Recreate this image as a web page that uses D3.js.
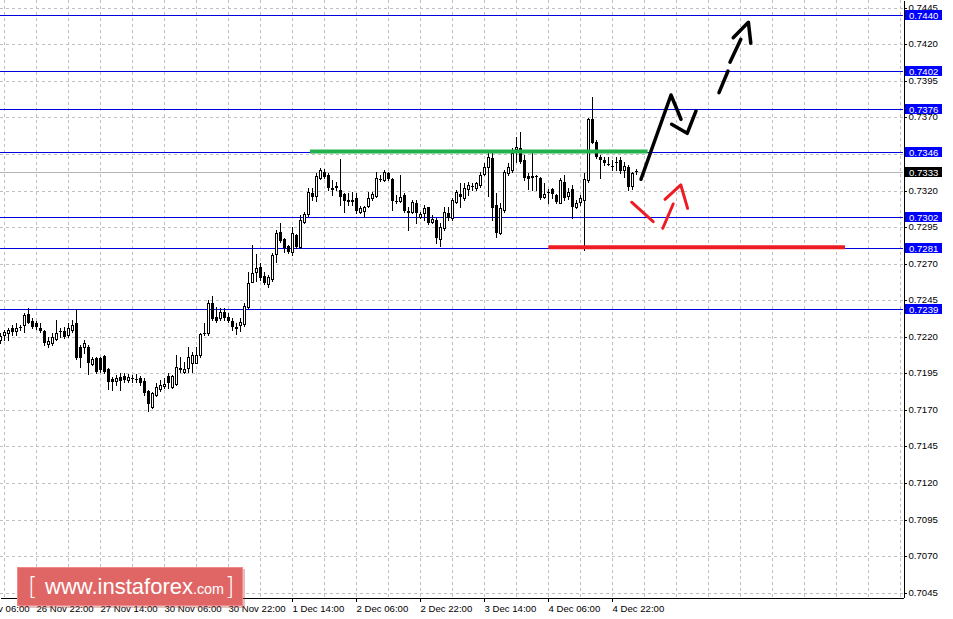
<!DOCTYPE html>
<html><head><meta charset="utf-8">
<script src="https://cdn.jsdelivr.net/npm/d3@7/dist/d3.min.js"></script>
<style>
body{margin:0;background:#fff}
svg{display:block;font-family:"Liberation Sans",Arial,sans-serif}
</style>
</head><body>
<svg id="c" width="953" height="619"></svg>
<script>
// ---- data (AUD/USD H1) ----
const opens = [0.72178,0.72212,0.72224,0.72258,0.72240,0.72262,0.72281,0.72356,0.72308,0.72292,0.72262,0.72240,0.72148,0.72155,0.72183,0.72242,0.72240,0.72212,0.72246,0.72292,
0.72132,0.72132,0.72132,0.72014,0.72053,0.72053,0.72069,0.71977,0.71909,0.71898,0.71927,0.71932,0.71904,0.71916,0.71913,0.71920,0.71900,0.71829,0.71722,0.71802,
0.71843,0.71863,0.71932,0.71859,0.71875,0.71984,0.71961,0.71984,0.72023,0.72023,0.72075,0.72217,0.72224,0.72429,0.72333,0.72326,0.72372,0.72338,0.72310,0.72269,
0.72281,0.72285,0.72406,0.72577,0.72645,0.72675,0.72616,0.72559,0.72593,0.72764,0.72914,0.72869,0.72821,0.72782,0.72896,0.72816,0.72987,0.73040,0.73185,0.73165,
0.73283,0.73324,0.73306,0.73215,0.73231,0.73204,0.73176,0.73135,0.73135,0.73151,0.73055,0.73060,0.73096,0.73151,0.73165,0.73276,0.73272,0.73322,0.73276,0.73125,
0.73131,0.73169,0.73060,0.73055,0.73112,0.73021,0.73044,0.73085,0.72987,0.72998,0.72866,0.72941,0.73044,0.73010,0.73124,0.73174,0.73146,0.73208,0.73226,0.73215,
0.73237,0.73313,0.73363,0.73420,0.73101,0.72911,0.73067,0.73317,0.73340,0.73481,0.73488,0.73408,0.73299,0.73299,0.73299,0.73283,0.73153,0.73192,0.73208,0.73169,
0.73117,0.73256,0.73162,0.73208,0.73090,0.73124,0.73135,0.73272,0.73686,0.73534,0.73427,0.73408,0.73379,0.73365,0.73398,0.73409,0.73341,0.73359,0.73231,0.73336];
const highs = [0.72224,0.72246,0.72258,0.72281,0.72292,0.72281,0.72360,0.72395,0.72326,0.72308,0.72297,0.72246,0.72201,0.72228,0.72315,0.72258,0.72269,0.72292,0.72315,0.72388,
0.72144,0.72178,0.72144,0.72064,0.72064,0.72064,0.72075,0.71984,0.71927,0.71939,0.71950,0.71950,0.71943,0.71939,0.71945,0.71932,0.71916,0.71836,0.71825,0.71886,
0.71904,0.71916,0.71950,0.71939,0.72075,0.72064,0.72030,0.72132,0.72098,0.72132,0.72228,0.72292,0.72452,0.72481,0.72406,0.72395,0.72395,0.72360,0.72326,0.72292,
0.72326,0.72429,0.72645,0.72827,0.72766,0.72702,0.72645,0.72622,0.72771,0.72930,0.72980,0.72873,0.72827,0.72948,0.72903,0.73033,0.73055,0.73215,0.73215,0.73317,
0.73352,0.73345,0.73317,0.73272,0.73260,0.73413,0.73181,0.73181,0.73188,0.73181,0.73096,0.73096,0.73192,0.73192,0.73329,0.73306,0.73340,0.73329,0.73283,0.73170,
0.73306,0.73181,0.73090,0.73135,0.73135,0.73055,0.73101,0.73089,0.73032,0.73010,0.72975,0.73089,0.73089,0.73146,0.73203,0.73249,0.73249,0.73260,0.73249,0.73260,
0.73329,0.73386,0.73454,0.73454,0.73181,0.73112,0.73340,0.73386,0.73488,0.73568,0.73602,0.73443,0.73317,0.73454,0.73306,0.73290,0.73249,0.73208,0.73215,0.73176,
0.73283,0.73306,0.73215,0.73237,0.73135,0.73169,0.73317,0.73693,0.73841,0.73545,0.73443,0.73431,0.73431,0.73408,0.73427,0.73432,0.73398,0.73375,0.73329,0.73345];
const lows = [0.72155,0.72178,0.72178,0.72212,0.72212,0.72246,0.72235,0.72292,0.72258,0.72251,0.72235,0.72144,0.72132,0.72144,0.72178,0.72201,0.72190,0.72201,0.72235,0.72046,
0.71996,0.72087,0.71943,0.72007,0.71950,0.71961,0.71950,0.71843,0.71836,0.71870,0.71836,0.71893,0.71893,0.71893,0.71888,0.71870,0.71802,0.71695,0.71715,0.71795,
0.71829,0.71847,0.71847,0.71852,0.71870,0.71961,0.71955,0.71961,0.71961,0.72018,0.72064,0.72212,0.72212,0.72315,0.72303,0.72315,0.72315,0.72303,0.72246,0.72217,
0.72242,0.72274,0.72395,0.72572,0.72580,0.72588,0.72559,0.72543,0.72584,0.72714,0.72850,0.72782,0.72770,0.72759,0.72809,0.72809,0.72980,0.73028,0.73135,0.73130,
0.73276,0.73283,0.73204,0.73169,0.73204,0.73101,0.73055,0.73101,0.73101,0.73049,0.73044,0.73021,0.73090,0.73135,0.73158,0.73265,0.73265,0.73272,0.73067,0.73117,
0.73124,0.73055,0.72930,0.73044,0.72976,0.73010,0.72998,0.72971,0.72975,0.72839,0.72823,0.72930,0.72998,0.72998,0.73112,0.73089,0.73135,0.73169,0.73203,0.73203,
0.73226,0.73306,0.73162,0.72998,0.72884,0.72903,0.73055,0.73306,0.73329,0.73397,0.73390,0.73272,0.73208,0.73203,0.73203,0.73139,0.73146,0.73117,0.73146,0.73117,
0.73112,0.73135,0.73140,0.73010,0.73078,0.73101,0.72794,0.73260,0.73522,0.73420,0.73283,0.73374,0.73374,0.73340,0.73341,0.73322,0.73295,0.73204,0.73209,0.73313];
const closes = [0.72205,0.72235,0.72246,0.72235,0.72262,0.72264,0.72349,0.72297,0.72265,0.72265,0.72240,0.72155,0.72171,0.72196,0.72228,0.72230,0.72201,0.72258,0.72281,0.72053,
0.72053,0.72155,0.72018,0.72046,0.71961,0.71973,0.71961,0.71893,0.71893,0.71920,0.71900,0.71904,0.71923,0.71918,0.71914,0.71886,0.71813,0.71738,0.71813,0.71859,
0.71870,0.71877,0.71882,0.71932,0.71996,0.71973,0.71980,0.72064,0.72075,0.72075,0.72217,0.72228,0.72433,0.72319,0.72310,0.72372,0.72326,0.72310,0.72265,0.72253,
0.72303,0.72411,0.72565,0.72634,0.72668,0.72604,0.72565,0.72606,0.72759,0.72907,0.72857,0.72805,0.72777,0.72907,0.72816,0.72998,0.73040,0.73192,0.73158,0.73299,
0.73340,0.73295,0.73215,0.73204,0.73215,0.73158,0.73131,0.73124,0.73124,0.73060,0.73083,0.73090,0.73147,0.73176,0.73283,0.73278,0.73329,0.73276,0.73131,0.73124,
0.73153,0.73062,0.73044,0.73124,0.73044,0.73037,0.73078,0.72975,0.73003,0.72873,0.72953,0.73055,0.73010,0.73135,0.73192,0.73153,0.73215,0.73238,0.73228,0.73249,
0.73306,0.73363,0.73431,0.73078,0.72907,0.73078,0.73329,0.73358,0.73454,0.73495,0.73397,0.73283,0.73279,0.73283,0.73297,0.73146,0.73174,0.73193,0.73174,0.73124,
0.73272,0.73146,0.73192,0.73085,0.73117,0.73146,0.73276,0.73686,0.73527,0.73431,0.73408,0.73386,0.73378,0.73363,0.73386,0.73336,0.73368,0.73227,0.73322,0.73330];

const xTickIndex  = [-7, 9, 25, 41, 57, 73, 89, 105, 121, 137, 153];
const xTickLabels = ["26 Nov 06:00","26 Nov 22:00","27 Nov 14:00","30 Nov 06:00","30 Nov 22:00",
                     "1 Dec 14:00","2 Dec 06:00","2 Dec 22:00","3 Dec 14:00","4 Dec 06:00","4 Dec 22:00"];
const yTicks = [0.7045,0.7070,0.7095,0.7120,0.7145,0.7170,0.7195,0.7220,0.7245,0.7270,0.7295,0.7320,0.7345,0.7370,0.7395,0.7420,0.7445];
const levels = [0.7440,0.7402,0.7376,0.7346,0.7302,0.7281,0.7239];
const bidPrice = 0.7333;

// annotations: [bar index, price]
const greenLine = [[77.5,0.73466],[161.9,0.73466]];
const redLine = [[137.1,0.72812],[211.25,0.72812]];
const blackSolid = [
  [[160.25,0.73277],[167.75,0.73853],[170.25,0.73687]],
  [[167.9,0.73653],[171.8,0.73591],[174.0,0.73744]]
];
const blackDashed = [
  [[179.75,0.73869],[182.0,0.74017]],
  [[182.5,0.74077],[185.2,0.74234]],
  [[183.3,0.74245],[187.1,0.74350],[187.7,0.74207]]
];
const redStrokes = [
  [[157.9,0.73120],[163.3,0.72987]],
  [[165.7,0.72942],[168.3,0.73108]],
  [[166.25,0.73140],[170.2,0.73238],[171.9,0.73078]]
];

// ---- layout ----
const W = 953, H = 619, plotR = 903, plotB = 597;
const svg = d3.select("#c");
const x = d3.scaleLinear().domain([0, plotR/4]).range([0, plotR]);
const y = d3.scaleLinear().domain([0.745025, 0.704211]).range([0, plotB]);
const py = v => Math.round(y(v)) + 0.5;
const FS = "9.6px";

svg.append("rect").attr("width", W).attr("height", H).attr("fill", "#fff");

const plot = svg.append("g");
plot.append("clipPath").attr("id","clip").append("rect").attr("width",plotR).attr("height",plotB);

// grid
const grid = plot.append("g").attr("shape-rendering","crispEdges").attr("stroke","#c0c0c0").attr("stroke-dasharray","3,3");
grid.selectAll("line.h").data(yTicks).join("line").attr("class","h")
  .attr("x1",0).attr("x2",plotR).attr("y1",d=>py(d)).attr("y2",d=>py(d));
const vgrid = d3.range(1, plotR/4, 8);
grid.selectAll("line.v").data(vgrid).join("line").attr("class","v")
  .attr("x1",d=>x(d)+0.5).attr("x2",d=>x(d)+0.5).attr("y1",0).attr("y2",plotB);

// bid line
plot.append("line").attr("x1",0).attr("x2",plotR).attr("y1",py(bidPrice)).attr("y2",py(bidPrice))
  .attr("stroke","#b4b4b4").attr("shape-rendering","crispEdges");

// level lines
plot.append("g").selectAll("line").data(levels).join("line")
  .attr("x1",0).attr("x2",plotR).attr("y1",d=>py(d)).attr("y2",d=>py(d))
  .attr("stroke","#0000e0").attr("shape-rendering","crispEdges");

// candles
const bars = opens.map((o,i)=>({i,o,h:highs[i],l:lows[i],c:closes[i]}));
const cg = plot.append("g").attr("clip-path","url(#clip)").attr("shape-rendering","crispEdges");
cg.selectAll("line.w").data(bars).join("line").attr("class","w")
  .attr("x1",d=>x(d.i)+0.5).attr("x2",d=>x(d.i)+0.5)
  .attr("y1",d=>Math.round(y(d.h))).attr("y2",d=>Math.round(y(d.l))+1)
  .attr("stroke","#000");
cg.selectAll("rect.b").data(bars).join("rect").attr("class","b")
  .each(function(d){
    const s = d3.select(this);
    const yt = Math.round(y(Math.max(d.o,d.c))), yb = Math.round(y(Math.min(d.o,d.c)));
    if (d.c > d.o && yb - yt >= 2) {
      s.attr("x",x(d.i)-0.5).attr("width",2).attr("y",yt+0.5).attr("height",yb-yt)
       .attr("fill","#fff").attr("stroke","#000");
    } else {
      s.attr("x",x(d.i)-1).attr("width",3).attr("y",yt).attr("height",Math.max(1,yb-yt))
       .attr("fill","#000");
    }
  });

// annotations
const line = d3.line().x(d=>x(d[0])).y(d=>y(d[1]));
plot.append("path").attr("d",line(greenLine)).attr("stroke","#22b14c").attr("stroke-width",4).attr("fill","none");
plot.append("path").attr("d",line(redLine)).attr("stroke","#ed1c24").attr("stroke-width",4).attr("fill","none");
plot.append("g").selectAll("path").data(blackSolid.concat(blackDashed)).join("path")
  .attr("d",line).attr("stroke","#000").attr("stroke-width",3.5).attr("fill","none")
  .attr("stroke-linecap","round").attr("stroke-linejoin","round");
plot.append("g").selectAll("path").data(redStrokes).join("path")
  .attr("d",line).attr("stroke","#ed1c24").attr("stroke-width",3).attr("fill","none")
  .attr("stroke-linecap","round").attr("stroke-linejoin","round");

// right axis
const ya = svg.append("g").attr("transform",`translate(${plotR+0.5},0)`)
  .call(d3.axisRight(y).tickValues(yTicks).tickSize(3).tickSizeOuter(0).tickFormat(d3.format(".4f")));
ya.select(".domain").attr("stroke","#000").attr("shape-rendering","crispEdges");
ya.selectAll(".tick line").attr("shape-rendering","crispEdges");
ya.selectAll(".tick").attr("transform",d=>`translate(0,${py(d)})`);
ya.selectAll("text").attr("x",5).attr("dy","0.3em").attr("font-size",FS)
  .attr("font-family","Liberation Sans, Arial, sans-serif").attr("fill","#000");

// bottom axis
const xa = svg.append("g").attr("transform",`translate(0,${plotB+0.5})`)
  .call(d3.axisBottom(x).tickValues(xTickIndex).tickSize(4).tickSizeOuter(0)
        .tickFormat((d,i)=>xTickLabels[i]));
xa.select(".domain").attr("stroke","#000").attr("shape-rendering","crispEdges");
xa.selectAll(".tick line").attr("shape-rendering","crispEdges");
xa.selectAll(".tick").attr("transform",d=>`translate(${x(d)+0.5},0)`);
xa.selectAll("text").attr("text-anchor","start").attr("x",0).attr("y",8).attr("dy","0.71em")
  .attr("font-size",FS).attr("font-family","Liberation Sans, Arial, sans-serif").attr("fill","#000");

// price label boxes
const boxes = levels.map(v=>({v,fill:"#0000ff"})).concat([{v:bidPrice,fill:"#000"}]);
const bg = svg.append("g");
bg.selectAll("rect").data(boxes).join("rect")
  .attr("x",plotR+2).attr("y",d=>Math.round(y(d.v))-5).attr("width",37).attr("height",10)
  .attr("fill",d=>d.fill).attr("shape-rendering","crispEdges");
bg.selectAll("text").data(boxes).join("text")
  .attr("x",plotR+6).attr("y",d=>py(d.v)).attr("dy","0.33em")
  .attr("font-size",FS).attr("fill","#fff").text(d=>d3.format(".4f")(d.v));

// logo
const lg = svg.append("g");
lg.append("rect").attr("x",19).attr("y",569).attr("width",226).attr("height",39).attr("fill","#b04848").attr("opacity",0.35);
lg.append("rect").attr("x",17.5).attr("y",567.5).attr("width",225).attr("height",38)
  .attr("fill","#e06666").attr("stroke","#f08a8a").attr("stroke-width",1);
lg.append("text").attr("x",28).attr("y",595).attr("font-size","24px").attr("fill","#fff")
  .attr("font-family","DejaVu Sans, sans-serif").attr("font-weight",200).text("[");
lg.append("text").attr("x",45).attr("y",594).attr("font-size","22px").attr("fill","#fff")
  .attr("textLength",148).attr("lengthAdjust","spacingAndGlyphs").text("www.instaforex");
lg.append("text").attr("x",193).attr("y",594).attr("font-size","15px").attr("fill","#fff")
  .attr("textLength",31).attr("lengthAdjust","spacingAndGlyphs").text(".com");
lg.append("text").attr("x",225).attr("y",595).attr("font-size","24px").attr("fill","#fff")
  .attr("font-family","DejaVu Sans, sans-serif").attr("font-weight",200).text("]");
</script>
</body></html>
